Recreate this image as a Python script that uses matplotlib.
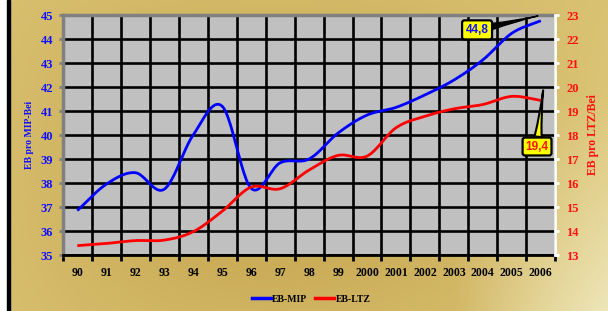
import numpy as np
import matplotlib
matplotlib.use("Agg")
import matplotlib.pyplot as plt
from matplotlib.lines import Line2D

# ---- data ----
years = ["90", "91", "92", "93", "94", "95", "96", "97", "98", "99",
         "2000", "2001", "2002", "2003", "2004", "2005", "2006"]
eb_mip = [36.85, 37.95, 38.43, 37.74, 40.0, 41.2, 37.78, 38.84, 39.0, 40.08,
          40.83, 41.15, 41.67, 42.29, 43.13, 44.24, 44.76]
eb_ltz = [13.39, 13.48, 13.6, 13.62, 13.97, 14.82, 15.83, 15.76, 16.54, 17.15,
          17.12, 18.3, 18.78, 19.09, 19.27, 19.61, 19.44]
left_ticks = [35, 36, 37, 38, 39, 40, 41, 42, 43, 44, 45]
right_ticks = [13, 14, 15, 16, 17, 18, 19, 20, 21, 22, 23]
label_mip = "44,8"
label_ltz = "19,4"


def smooth(y, n=24):
    """Catmull-Rom smoothing of a line through the data points (for drawing)."""
    y = np.asarray(y, float)
    x = np.arange(len(y), dtype=float)
    p = np.concatenate([[2 * y[0] - y[1]], y, [2 * y[-1] - y[-2]]])
    px = np.concatenate([[x[0] - 1], x, [x[-1] + 1]])
    xs, ys = [], []
    for i in range(1, len(p) - 2):
        t = np.linspace(0, 1, n, endpoint=False)
        for arr, out in ((px, xs), (p, ys)):
            p0, p1, p2, p3 = arr[i - 1], arr[i], arr[i + 1], arr[i + 2]
            out.extend(0.5 * ((2 * p1) + (-p0 + p2) * t +
                              (2 * p0 - 5 * p1 + 4 * p2 - p3) * t ** 2 +
                              (-p0 + 3 * p1 - 3 * p2 + p3) * t ** 3))
    xs.append(x[-1]); ys.append(y[-1])
    return np.array(xs), np.array(ys)


W, H = 608, 311
fig = plt.figure(figsize=(W / 100, H / 100), dpi=100)

# ---- golden background ----
bg = fig.add_axes([0, 0, 1, 1], zorder=-10)
gx, gy = np.meshgrid(np.linspace(0, 1, 300), np.linspace(0, 1, 160))
light = np.array([236, 222, 150]) / 255
dark = np.array([200, 168, 82]) / 255
pale = np.array([238, 230, 185]) / 255
w = 0.55 + 0.45 * np.cos((gx - 0.45) * 3.2) * np.cos((gy - 0.55) * 2.2)
w = np.clip(w, 0, 1)
img = light * (1 - w[..., None]) + dark * w[..., None]
wr = np.clip((gx - 0.75) / 0.25, 0, 1) * np.clip((gy - 0.3) / 0.7, 0, 1)
img = img * (1 - wr[..., None]) + pale * wr[..., None]
bg.imshow(img, extent=[0, 1, 0, 1], aspect="auto", origin="upper")
bg.add_patch(plt.Rectangle((0, 0), 7 / W, 1, color="white", transform=bg.transAxes))
bg.add_patch(plt.Rectangle((7 / W, 0), 3 / W, 1, color="black", transform=bg.transAxes))
bg.set_xlim(0, 1); bg.set_ylim(0, 1)
bg.axis("off")

# ---- main axes ----
L, R, T, B = 62.8, 555.3, 15, 255
ax = fig.add_axes([L / W, 1 - B / H, (R - L) / W, (B - T) / H])
ax.set_facecolor("#c0c0c0")
n = len(years)
ax.set_xlim(-0.5, n - 0.5)
ax.set_ylim(left_ticks[0], left_ticks[-1])

ax.set_xticks(np.arange(-0.5, n, 1.0))
ax.set_xticklabels([""] * (n + 1))
ax.set_xticks(np.arange(n), minor=True)
ax.set_xticklabels(years, minor=True, fontfamily="Liberation Serif",
                   fontweight="bold", fontsize=8.5, color="black")
ax.tick_params(axis="x", which="major", length=4, width=2, color="black", direction="out")
ax.tick_params(axis="x", which="minor", length=0, pad=9)

ax.set_yticks(left_ticks)
ax.set_yticklabels([str(v) for v in left_ticks], fontfamily="Liberation Serif",
                   fontweight="bold", fontsize=9, color="#1010ff")
ax.tick_params(axis="y", length=3, width=2, color="#808080", pad=4)

ax.grid(True, which="major", color="black", linewidth=1.9)
ax.set_axisbelow(True)
for s in ("top", "left"):
    ax.spines[s].set_color("#808080"); ax.spines[s].set_linewidth(2.5)
ax.spines["bottom"].set_color("black"); ax.spines["bottom"].set_linewidth(2)
ax.spines["right"].set_visible(False)

xs, ys = smooth(eb_mip)
ax.plot(xs, ys, color="#0000ff", lw=2.0, solid_capstyle="butt", zorder=5)

ax.set_ylabel("EB pro MIP-Bei", fontfamily="Liberation Serif", fontweight="bold",
              fontsize=7, color="#1010ff", labelpad=5)

# ---- right axes ----
ax2 = ax.twinx()
ax2.set_ylim(right_ticks[0], right_ticks[-1])
ax2.set_yticks(right_ticks)
ax2.set_yticklabels([str(v) for v in right_ticks], fontfamily="Liberation Serif",
                    fontweight="bold", fontsize=9, color="#ff1010")
ax2.tick_params(axis="y", length=3, width=2, color="white", pad=5)
ax2.spines["right"].set_color("white"); ax2.spines["right"].set_linewidth(2)
for s in ("top", "left", "bottom"):
    ax2.spines[s].set_visible(False)
xs2, ys2 = smooth(eb_ltz)
ax2.plot(xs2, ys2, color="#ff0000", lw=2.0, solid_capstyle="butt", zorder=5)
ax2.set_ylabel("EB pro LTZ/Bei", fontfamily="Liberation Serif", fontweight="bold",
               fontsize=8.5, color="#ff1010", labelpad=6)

# ---- callouts ----
ax.annotate(label_mip, xy=(15.9, 44.96), xytext=(13.8, 44.38),
            fontfamily="Liberation Sans", fontweight="bold", fontsize=8.5,
            color="#1010ff", ha="center", va="center", zorder=10,
            bbox=dict(boxstyle="round,pad=0.3,rounding_size=0.2", fc="yellow",
                      ec="black", lw=1.6),
            arrowprops=dict(arrowstyle="wedge,tail_width=0.5,shrink_factor=0.3",
                            fc="black", ec="black", lw=1, shrinkA=0, shrinkB=0))
ax2.annotate(label_ltz, xy=(16.08, 19.86), xytext=(15.87, 17.52),
             fontfamily="Liberation Sans", fontweight="bold", fontsize=8.5,
             color="#ff1010", ha="center", va="center", zorder=10,
             bbox=dict(boxstyle="round,pad=0.25,rounding_size=0.2", fc="yellow",
                       ec="black", lw=1.6),
             arrowprops=dict(arrowstyle="wedge,tail_width=0.6,shrink_factor=0.3",
                             fc="yellow", ec="black", lw=1.5, shrinkA=0, shrinkB=0))

# ---- legend ----
handles = [Line2D([], [], color="#0000ff", lw=2.5), Line2D([], [], color="#ff0000", lw=2.5)]
fig.legend(handles, ["EB-MIP", "EB-LTZ"], loc="center", bbox_to_anchor=(311 / W, 1 - 299 / H),
           ncol=2, frameon=False, handlelength=2.0, handletextpad=0.1, columnspacing=0.8,
           prop=dict(family="Liberation Serif", weight="bold", size=7))

fig.savefig("out.png", dpi=100)
